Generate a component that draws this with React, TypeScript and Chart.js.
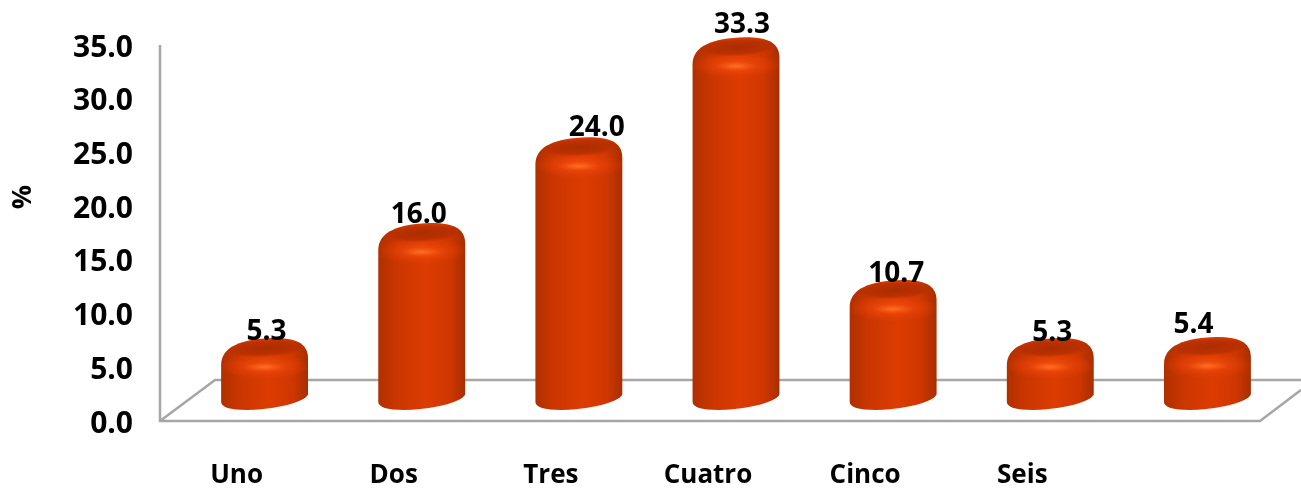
import React, { useEffect, useRef } from "react";
import { Chart, registerables } from "chart.js";

Chart.register(...registerables);

const categories = ["Uno", "Dos", "Tres", "Cuatro", "Cinco", "Seis", ""];
const values = [5.3, 16.0, 24.0, 33.3, 10.7, 5.3, 5.4];
const yTicks = [0, 5, 10, 15, 20, 25, 30, 35];
const labelShiftX = [2, -3, 18, 6, 3, 2, -14];
const labelShiftY = [-6, -8, -9, -12, -6, -5, -12];
const axisTitle = "%";

const FONT = '"Open Sans"';
const DEPTH_X = 26;
const DEPTH_Y = 12;
const AXIS = "#a6a6a6";

const floorPlugin = {
  id: "floor",
  beforeDatasetsDraw(chart: any) {
    const { ctx, chartArea: a } = chart;
    ctx.save();
    ctx.strokeStyle = AXIS;
    ctx.lineWidth = 2.5;
    ctx.beginPath();
    ctx.moveTo(a.left, a.top);
    ctx.lineTo(a.left, a.bottom);
    ctx.lineTo(a.right, a.bottom);
    ctx.lineTo(a.right + 41, a.bottom - 31);
    ctx.moveTo(a.left, a.bottom);
    ctx.lineTo(a.left + 55, a.bottom - 41);
    ctx.lineTo(a.right + 41, a.bottom - 41);
    ctx.stroke();

    ctx.translate(23, (a.top + a.bottom) / 2 - 36);
    ctx.rotate(-Math.PI / 2);
    ctx.fillStyle = "#000";
    ctx.font = `bold 27px ${FONT}`;
    ctx.textAlign = "center";
    ctx.textBaseline = "middle";
    ctx.fillText(axisTitle, 0, 0);
    ctx.restore();
  },
};

const cylinderPlugin = {
  id: "cylinder",
  afterDatasetsDraw(chart: any) {
    const { ctx } = chart;
    const bars = chart.getDatasetMeta(0).data;
    bars.forEach((bar: any) => {
      const cx = bar.x + DEPTH_X;
      const hw = bar.width / 2;
      const top = bar.y - DEPTH_Y - 14;
      const low = bar.base - DEPTH_Y + 1;
      ctx.save();
      ctx.beginPath();
      ctx.moveTo(cx - hw, top + 27);
      ctx.bezierCurveTo(cx - hw, top + 9, cx - hw * 0.55, top + 1, cx + hw * 0.2, top);
      ctx.bezierCurveTo(cx + hw * 0.8, top, cx + hw, top + 7, cx + hw, top + 21);
      ctx.lineTo(cx + hw, low - 16);
      ctx.bezierCurveTo(cx + hw, low - 11, cx + hw * 0.5, low - 1, cx - hw * 0.4, low);
      ctx.bezierCurveTo(cx - hw * 0.8, low, cx - hw, low - 3, cx - hw, low - 8);
      ctx.closePath();
      const g = ctx.createLinearGradient(cx - hw, 0, cx + hw, 0);
      g.addColorStop(0, "#b03000");
      g.addColorStop(0.22, "#cb3600");
      g.addColorStop(0.55, "#dc3c02");
      g.addColorStop(0.82, "#cf3700");
      g.addColorStop(1, "#a82e00");
      ctx.fillStyle = g;
      ctx.fill();
      ctx.clip();

      // soft band below the top edge
      ctx.save();
      ctx.translate(cx, top + 28);
      ctx.scale(1, 0.3);
      const gs = ctx.createRadialGradient(0, 0, 0, 0, 0, hw * 1.05);
      gs.addColorStop(0, "rgba(255,90,20,0.75)");
      gs.addColorStop(0.6, "rgba(232,66,8,0.55)");
      gs.addColorStop(1, "rgba(225,60,4,0)");
      ctx.fillStyle = gs;
      ctx.fillRect(-hw * 1.1, -hw * 1.1, hw * 2.2, hw * 2.2);
      ctx.restore();

      // darker top surface
      ctx.save();
      ctx.translate(cx + 2, top + 10);
      ctx.rotate(-0.05);
      ctx.scale(1, 0.22);
      const gt = ctx.createRadialGradient(0, 0, 0, 0, 0, hw * 0.95);
      gt.addColorStop(0, "rgba(168,44,0,0.95)");
      gt.addColorStop(0.7, "rgba(178,46,0,0.75)");
      gt.addColorStop(1, "rgba(178,46,0,0)");
      ctx.fillStyle = gt;
      ctx.fillRect(-hw, -hw, hw * 2, hw * 2);
      ctx.restore();

      // highlight under the top edge
      ctx.save();
      ctx.translate(cx, top + 29);
      ctx.scale(1, 0.22);
      const gh = ctx.createRadialGradient(0, 0, 0, 0, 0, hw * 0.5);
      gh.addColorStop(0, "rgba(255,115,40,0.95)");
      gh.addColorStop(1, "rgba(250,85,20,0)");
      ctx.fillStyle = gh;
      ctx.fillRect(-hw, -hw, hw * 2, hw * 2);
      ctx.restore();
      ctx.restore();
    });

    bars.forEach((bar: any, i: number) => {
      const cx = bar.x + DEPTH_X;
      const top = bar.y - DEPTH_Y - 14;
      ctx.save();
      ctx.fillStyle = "#000";
      ctx.font = `bold 28px ${FONT}`;
      ctx.textAlign = "center";
      ctx.textBaseline = "middle";
      ctx.fillText(
        values[i].toFixed(1),
        cx + labelShiftX[i],
        top + labelShiftY[i]
      );
      ctx.restore();
    });
  },
};

export default function App() {
  const ref = useRef<HTMLCanvasElement>(null);
  useEffect(() => {
    document.body.style.margin = "0";
    const chart = new Chart(ref.current as HTMLCanvasElement, {
      type: "bar",
      data: {
        labels: categories,
        datasets: [
          {
            data: values,
            backgroundColor: "rgba(0,0,0,0)",
            borderWidth: 0,
            categoryPercentage: 1,
            barPercentage: 0.553,
          },
        ],
      },
      options: {
        responsive: false,
        animation: false,
        layout: { padding: { top: 45, right: 41, left: 0, bottom: 0 } },
        plugins: { legend: { display: false }, tooltip: { enabled: false } },
        scales: {
          x: {
            grid: { display: false },
            border: { display: false },
            afterFit(s: any) {
              s.height = 67;
            },
            ticks: {
              color: "#000",
              padding: 31,
              labelOffset: -2,
              maxRotation: 0,
              font: { family: FONT, weight: "bold", size: 26 },
            },
          },
          y: {
            min: 0,
            max: 35,
            afterFit(s: any) {
              s.width = 160;
            },
            afterBuildTicks(s: any) {
              s.ticks = yTicks.map((value) => ({ value }));
            },
            grid: { display: false },
            border: { display: false },
            ticks: {
              color: "#000",
              padding: 19,
              labelOffset: 3,
              callback: (v: any) => Number(v).toFixed(1),
              font: { family: FONT, weight: "bold", size: 30 },
            },
          },
        },
      },
      plugins: [floorPlugin, cylinderPlugin],
    } as any);
    return () => chart.destroy();
  }, []);
  return <canvas ref={ref} width={1301} height={488} style={{ display: "block" }} />;
}
